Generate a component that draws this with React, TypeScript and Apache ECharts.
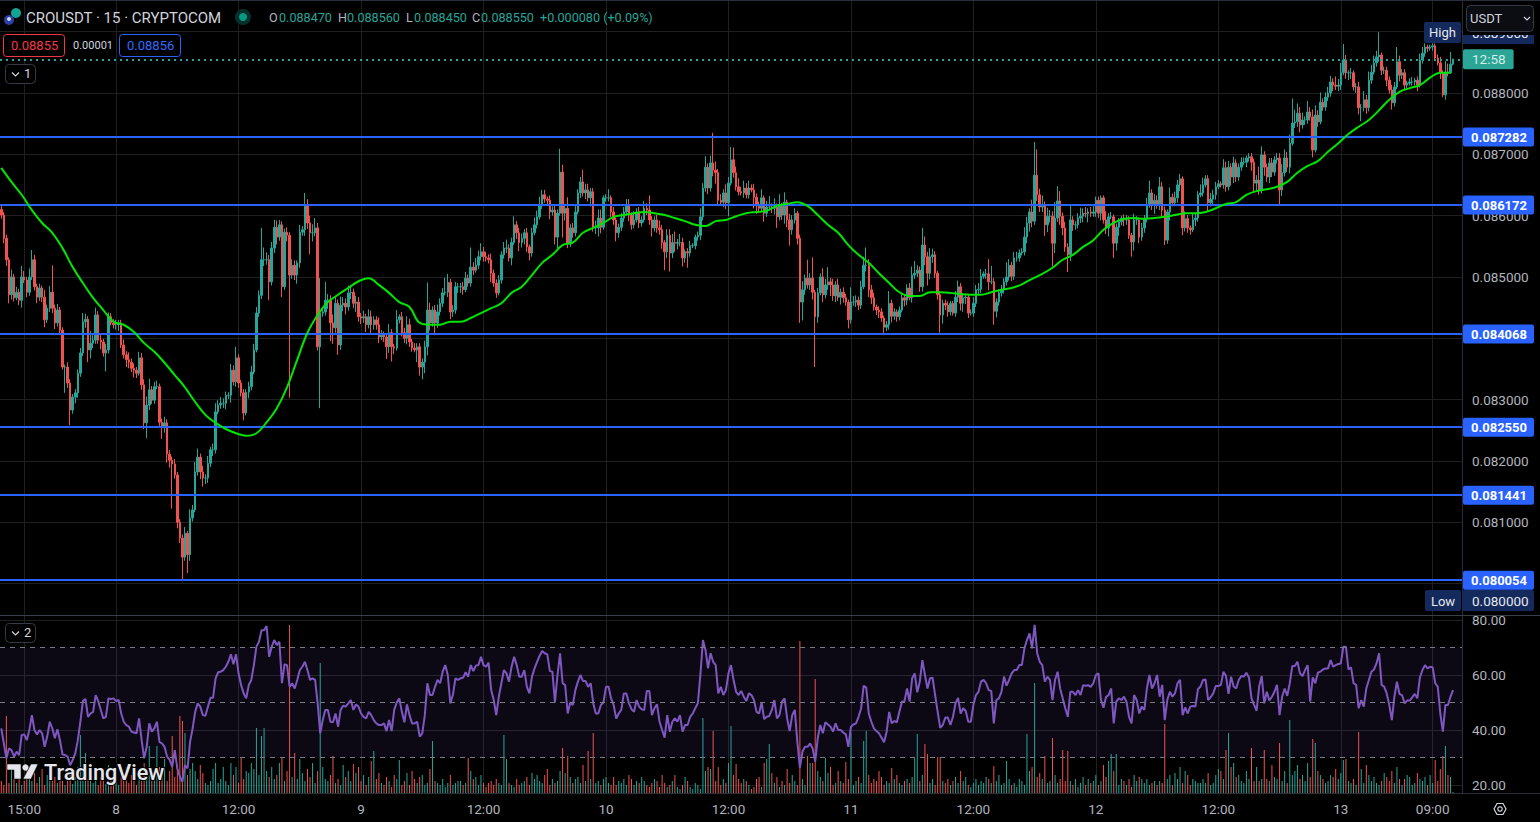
import React, { useEffect, useRef } from "react";
import * as echarts from "echarts";

// price values are stored in 0.00001 steps above 0.08
const priceBase = 0.08;
const priceStep = 0.00001;
const firstOpen = 610;
const closes = [
601,563,528,471,500,466,475,462,500,495,
475,500,528,484,467,482,467,430,449,475,
449,425,446,413,353,353,327,283,304,311,
343,376,427,431,381,392,397,438,397,394,
376,381,435,425,422,422,425,389,373,365,
361,351,348,343,368,324,262,291,316,299,
321,321,263,254,262,211,201,195,177,100,
74,43,82,47,107,120,182,206,182,172,
172,196,218,218,280,291,294,294,307,307,
348,329,368,327,311,278,312,321,345,381,
441,470,528,528,528,492,547,581,565,585,
484,573,568,503,519,503,523,573,577,617,
588,572,572,580,386,441,443,462,462,425,
417,457,389,454,457,451,474,475,457,459,
435,433,435,422,435,422,430,422,402,405,
402,386,409,386,384,430,435,409,400,422,
394,384,381,386,353,361,386,446,425,446,
425,443,457,474,475,491,443,446,484,484,
484,479,498,490,516,511,519,533,541,533,
531,528,506,490,474,495,536,547,547,531,
556,585,572,556,563,572,549,539,572,585,
598,617,634,627,625,606,609,565,604,671,
604,612,555,580,572,606,637,655,637,642,
629,639,580,580,596,581,629,629,629,606,
593,572,581,596,606,617,601,585,593,606,
588,593,612,609,593,580,593,580,577,556,
541,568,539,556,555,556,556,531,541,539,
551,551,565,568,598,645,679,645,686,674,
670,625,622,637,621,653,691,670,647,639,
637,645,634,645,642,630,617,612,629,604,
614,614,612,614,598,617,601,622,593,577,
593,604,563,459,479,498,487,498,475,435,
474,500,471,487,492,487,469,487,467,475,
466,459,430,459,459,462,454,484,519,519,
479,466,451,446,443,433,418,422,457,436,
443,435,446,466,462,482,466,503,506,511,
484,552,533,506,533,536,506,471,438,457,
454,443,457,441,467,484,457,466,467,441,
441,457,479,480,501,505,505,492,492,444,
459,474,479,492,500,519,501,531,531,539,
541,565,588,606,591,666,634,614,617,585,
599,599,555,596,624,599,580,549,536,593,
585,585,596,599,604,603,606,604,606,625,
604,629,593,580,598,598,555,581,590,596,
593,593,568,557,593,593,565,580,595,617,
637,617,625,617,647,609,560,606,630,621,
629,650,660,580,595,580,577,593,596,634,
637,650,660,621,627,634,647,652,650,678,
647,679,663,686,663,679,687,687,694,696,
687,653,658,642,699,679,663,686,671,691,
694,642,670,694,679,718,751,753,767,748,
756,756,769,761,707,764,753,785,777,793,
800,818,813,811,813,833,854,833,833,833,
810,810,776,776,789,776,821,834,849,859,
862,837,837,821,805,784,810,851,829,833,
813,816,818,818,821,813,854,865,875,873,
875,877,857,849,833,797,834,833,847,855,
];
const upperWicks = [
8,5,6,4,12,5,9,6,18,10,
5,14,16,8,5,7,4,12,6,10,
44,6,10,5,5,4,8,6,5,6,
6,8,14,9,5,20,8,12,6,8,
5,10,7,6,6,8,5,5,9,6,
12,6,8,5,10,8,9,14,18,6,
8,10,5,6,10,6,7,6,8,5,
5,6,10,4,14,8,16,14,6,10,
6,12,5,10,14,8,10,8,6,5,
10,8,18,6,5,6,5,8,10,10,
10,8,52,20,12,8,10,12,11,8,
6,6,8,5,10,8,4,12,6,20,
10,12,14,16,8,57,8,30,10,8,
14,10,6,14,10,8,12,10,6,10,
8,6,10,5,12,10,6,6,12,8,
6,6,14,6,5,16,4,8,8,14,
10,5,8,6,6,6,10,45,12,6,
8,12,8,8,24,14,6,8,8,6,
6,8,10,6,32,8,12,10,14,8,
8,6,10,6,6,8,6,10,14,6,
8,14,6,8,8,6,8,4,8,12,
10,14,8,8,4,8,6,10,6,38,
12,6,18,6,8,12,6,8,20,10,
10,6,6,12,14,14,4,6,14,4,
8,4,6,8,8,10,10,4,14,6,
8,6,12,8,24,6,6,8,12,8,
4,10,10,14,18,6,14,8,4,6,
8,4,4,6,14,8,18,6,12,49,
14,6,10,6,14,10,21,20,10,14,
8,12,8,12,6,10,6,6,14,4,
10,18,6,14,6,18,4,16,4,10,
8,8,4,6,14,6,30,8,34,4,
8,6,14,10,24,6,10,6,10,6,
8,6,4,24,10,8,6,10,14,29,
10,8,8,4,6,6,4,6,20,6,
6,4,6,8,6,6,8,14,20,8,
6,28,14,8,14,10,6,4,6,6,
6,6,4,4,10,10,6,8,6,4,
6,10,8,10,12,4,8,24,26,6,
6,6,8,6,24,10,6,10,10,6,
6,16,10,6,20,54,42,10,16,6,
14,10,8,26,24,16,6,10,6,24,
6,6,8,14,8,10,6,8,10,6,
6,4,4,14,6,8,4,6,6,4,
6,8,6,4,10,6,4,8,6,12,
20,6,10,8,16,8,6,4,16,6,
10,8,8,4,12,6,4,10,8,6,
14,12,6,6,10,8,8,6,4,14,
10,10,6,10,6,6,8,8,4,6,
6,6,8,22,14,6,6,8,8,6,
8,8,14,14,10,14,40,20,16,10,
12,6,18,8,12,16,8,16,6,8,
10,10,6,14,10,16,26,8,4,8,
4,6,8,6,14,8,14,12,12,10,
37,4,6,6,6,8,8,24,10,6,
6,4,6,8,4,6,10,10,6,4,
4,4,4,6,10,4,18,14,20,1,
];
const lowerWicks = [
6,8,10,14,8,6,4,8,12,5,
8,6,5,6,10,6,8,12,5,6,
8,10,6,8,4,42,8,25,6,10,
8,6,5,10,20,14,8,6,6,12,
6,30,6,4,6,8,10,5,6,12,
10,6,12,8,4,8,10,25,8,6,
6,4,8,18,8,14,12,73,6,10,
8,37,6,30,10,6,4,6,12,14,
10,8,6,10,6,4,6,8,10,6,
12,6,8,8,6,12,4,10,6,4,
4,6,6,10,8,30,6,8,12,6,
17,5,10,200,6,8,14,8,6,10,
10,35,14,6,6,100,6,6,14,30,
26,8,16,8,10,12,6,10,8,14,
8,10,8,12,6,14,8,8,10,5,
8,20,10,24,10,4,6,6,8,10,
8,6,4,20,14,20,18,14,12,6,
20,8,6,6,4,8,12,8,6,10,
10,8,4,6,6,8,4,6,6,8,
6,6,14,6,8,4,6,6,8,6,
12,4,10,14,8,10,8,12,6,4,
6,4,6,6,6,12,6,12,18,4,
40,12,8,6,8,6,4,8,6,10,
6,14,6,10,14,10,4,6,6,8,
8,14,8,6,6,6,10,8,6,4,
8,6,4,8,8,14,6,8,8,10,
30,10,30,8,14,10,6,14,8,24,
6,4,6,6,8,6,6,10,6,10,
18,8,6,8,10,22,4,8,6,6,
4,8,6,6,4,18,14,8,6,14,
6,6,8,10,18,6,8,14,12,26,
8,6,10,34,30,8,6,8,12,82,
10,4,12,6,8,18,8,10,6,12,
8,6,14,6,6,8,8,6,4,10,
12,10,6,8,10,6,13,6,8,10,
6,8,6,4,10,8,4,8,6,6,
8,8,14,20,10,10,8,8,29,14,
8,8,6,4,6,8,12,14,10,8,
4,6,6,8,6,4,8,14,4,22,
10,6,6,6,6,6,8,6,6,6,
4,6,10,14,10,6,10,8,8,18,
12,10,38,16,6,14,12,8,28,10,
10,8,6,8,10,6,14,6,6,8,
8,12,6,10,14,4,24,12,14,6,
10,8,6,24,14,8,10,6,8,6,
4,8,14,6,8,10,8,6,14,6,
6,8,10,12,6,8,8,4,10,6,
4,6,4,14,6,10,8,4,4,6,
8,6,14,10,8,6,6,4,8,6,
14,16,12,8,6,14,8,10,8,6,
6,24,10,6,8,10,4,8,8,12,
6,8,6,6,12,4,8,4,6,6,
6,6,10,6,8,8,4,10,12,10,
6,10,11,22,6,10,6,6,4,6,
8,8,6,10,6,11,6,4,10,6,
8,6,4,6,6,10,4,6,6,6,
4,6,4,4,10,4,8,6,2,2,
];
const volumes = [
12,8,77,10,28,14,10,22,8,12,
26,18,12,20,10,16,24,8,18,12,
24,16,10,22,12,8,14,20,9,16,
26,58,22,40,14,18,10,24,8,16,
12,9,28,14,10,20,8,16,12,26,
10,18,14,8,22,12,30,16,47,20,
14,47,26,18,34,12,22,57,16,28,
77,72,60,18,24,30,22,14,28,20,
10,8,12,24,30,10,14,26,12,8,
30,18,26,10,36,14,22,20,30,24,
65,18,57,65,22,16,26,14,18,30,
36,12,22,168,16,40,14,34,20,12,
24,16,30,10,22,130,26,14,12,18,
37,10,14,8,28,16,22,12,29,20,
26,12,18,8,16,32,42,14,20,10,
8,16,12,6,18,14,33,8,12,20,
8,22,14,10,16,18,8,10,24,52,
12,10,8,14,6,10,18,8,10,12,
12,8,10,35,22,14,16,8,18,10,
6,10,12,8,14,10,8,58,34,10,
8,6,14,8,10,12,16,8,20,14,
18,12,10,18,24,8,14,10,12,22,
45,20,37,16,10,14,16,10,28,12,
42,14,60,10,12,8,14,16,10,8,
16,8,12,10,14,8,18,14,8,12,
10,16,12,8,6,10,14,12,6,18,
10,6,8,12,18,6,4,8,16,12,
6,4,10,8,4,75,22,26,24,62,
12,26,8,14,10,30,67,18,29,14,
10,14,12,8,4,6,14,16,6,30,
34,49,20,10,16,6,12,8,24,10,
18,12,8,152,14,8,37,30,30,114,
22,16,12,35,20,26,8,10,22,12,
10,31,14,60,8,12,16,10,52,62,
18,10,14,12,22,16,8,12,10,25,
14,18,10,8,12,14,10,16,35,59,
12,18,49,39,10,14,8,36,36,12,
10,14,8,12,16,10,22,12,16,8,
6,10,14,8,12,10,16,14,10,27,
12,18,8,10,32,14,8,10,6,14,
12,8,59,22,26,110,16,20,14,37,
10,12,55,18,10,14,43,12,42,12,
8,14,6,10,16,8,14,10,12,18,
8,12,28,16,32,39,22,39,8,14,
12,8,14,6,18,12,16,14,10,14,
8,10,12,8,12,10,69,14,18,8,
20,14,26,10,22,18,8,14,12,10,
10,14,10,20,8,10,18,24,22,14,
43,60,26,30,16,18,12,10,22,14,
45,12,26,12,14,43,14,12,28,16,
14,50,12,22,10,73,18,22,28,14,
18,12,30,16,54,50,22,18,14,10,
12,18,16,24,14,20,33,34,12,10,
14,8,61,24,10,28,18,12,16,10,
8,12,20,16,12,22,10,26,14,8,
14,18,16,8,10,20,14,12,16,8,
18,10,33,12,24,37,47,18,16,1,
];
// moving average, one reading for every fourth candle
const maEvery = 4;
const maValues = [
678,655,634,609,588,572,547,516,490,466,446,427,422,410,392,378,360,340,320,296,
275,262,252,245,241,245,263,286,320,365,409,438,459,471,482,493,498,
487,474,459,451,425,422,422,427,427,433,441,449,457,474,484,503,523,536,552,556,572,580,588,598,601,604,606,604,601,596,591,585,583,591,593,
599,604,606,608,616,619,622,616,601,585,572,552,536,523,506,490,475,469,469,475,475,474,472,471,471,475,479,482,488,497,505,515,528,536,549,
560,577,588,595,596,595,596,598,601,604,604,606,612,619,622,634,640,643,647,655,670,681,689,704,718,733,745,756,772,789,802,808,813,825,833,833,
];
const rsiValues = [
40.6,35.1,29.7,33.3,32.7,30.3,32.1,30.9,38.2,38.4,36.3,40,45.4,40,38.4,40,38.8,33.9,37.6,43,40.6,37,40.3,36.3,31.1,30.9,30.3,27.2,29.1,31.5,36.3,43,50.5,51.3,44.8,46,46.6,52.7,50.5,47.3,44.2,44.8,51.5,51.3,51.5,50.5,50.9,46,43,41.8,41.2,39.4,39.1,38.8,44.2,36.3,29.7,33.9,42.4,39.4,40.6,43,35.7,35.1,33.9,30.3,29.1,26.6,32.7,26,23,21.2,27.2,26,35.7,40.6,46.6,49.7,48.5,45.4,45.2,48.5,51.7,51.7,58.8,61,61.2,61.8,63,64.8,67.5,63.9,67.5,60.6,56.3,53.3,51.5,56.3,58.2,63.6,70.3,72.1,76.3,76.3,77.8,66.6,70.3,72.7,70.9,72.1,57,63.9,63.6,55.7,57,55.1,58.2,61.8,63,64.8,61.8,58.2,58.8,58.2,49.7,38.8,43.6,47.3,47.3,43,42.8,46,41.2,47.3,48.8,48.5,49.7,50.9,47.3,49.3,48.5,46,44.8,44.2,46.6,
45.4,43.6,42.4,41.8,41.8,42.4,39.6,43.6,39.6,47.3,50,51.5,46.6,42.8,49.3,45.4,42.4,42.4,43,37.6,38.8,45.4,57,52.7,52.7,55.7,58.2,57,61.2,63.6,60,49.7,52.7,58.8,58.2,58.8,59,61,59.4,63.6,61.4,63.4,63.6,66.6,63.6,63,64.5,54.5,50.9,45.4,52.1,57,61.8,60.6,57.6,63,66.6,63.6,59.4,59.4,61.8,55.7,53.3,59.4,62.4,64.8,67,68.7,67.9,67.5,61.4,61.2,50,60,67.9,57,56.3,46,50,49.1,54.5,57.6,60,57.8,57.8,55.7,57,49.7,46,46,49.1,50,55.7,55.7,51.5,49.1,44.2,46,47.3,53.3,53.3,49.7,47.6,46.6,50.9,48.5,47.5,47.3,54.2,54.2,45.4,47.9,49.3,43,40,37.2,45.4,39.4,43,44.2,43,45.4,39.4,41.8,41.8,44.8,46,47.9,49.7,60,72.7,69.1,62.4,67.9,64.8,63.6,53.3,55.7,52.7,54.5,60.6,63.6,58.2,53.9,52.7,
54.2,52.1,50.5,53.3,52.7,50.9,46.6,46,50,44,44.8,45.1,47.3,50.9,44.2,45.4,50.3,51.5,44.2,39.6,45.4,47.3,35.7,26.3,32.1,33.9,33.9,35.1,33.3,28.5,37,41.8,38.8,42.8,42,41.2,39.4,42.4,40,40,39.1,38.4,33.9,41.2,42,42.4,44.8,47.9,56.1,55.4,46,43,40.6,39.6,38.8,37.2,35.5,39.4,46.6,42.4,43.3,42.8,46.6,50.3,50.5,55.1,50.3,58.8,60.6,53.7,57.6,65.4,60,55.1,58.8,59,52.7,46.6,40.8,41.8,44.5,44.5,41.8,44.8,49.7,51.7,46,47.9,46.9,43,43,49.1,52.7,53.9,57.6,58.2,57,54.5,54.2,42.4,50.9,51.5,53.9,59.4,56.1,58.2,60.6,61.8,61.8,63.6,63.6,69.7,72.7,75.1,69.7,78.2,67.9,64.8,63.6,57.6,59.4,58.2,50.9,58.2,61.2,55.1,51.5,47.9,44.8,53.9,53.9,52.7,54.5,52.7,56.3,56.1,56.3,55.7,57,60,60.6,50.9,48.1,52.1,52.7,
55.1,42.4,50.3,51.5,50.9,52.1,50.3,44.8,42.4,52.7,50.9,46,48.5,47.3,55.1,60,55.1,57,60,52.1,56.4,43.6,50.9,53.9,52.1,53.3,57,58.2,45.4,48.2,46,48.5,48.7,48.5,54.8,55.8,58.2,58.4,50.9,51.9,53.3,56,56,56.4,61.2,59.6,53.1,59.4,55.8,55.1,58.2,59.6,59.4,60.8,59.1,51.5,49.1,47,55.8,59.6,49.7,53.9,50.7,52.1,53.9,56.4,45.4,52.1,55.1,52.4,57,63.3,63.3,64.8,60.6,59.6,61.8,63.6,50.3,59.1,57,60.8,61.2,62,62.4,62.4,65.4,63,63.6,64,64.2,70.3,70.3,62,62.8,57,56.4,47.9,50.9,48.5,55.1,58.2,61.2,62,64.2,67.9,56.4,55.8,53.3,49.1,43.6,52.1,57.6,53.1,52.7,49.7,50.7,50.7,51.9,53.1,51.5,59.1,61.8,63.6,62.4,63,62.8,57,55.8,46,39.4,49.1,49.1,52.1,54.5,
];
const levels = [0.087282, 0.086172, 0.084068, 0.08255, 0.081441, 0.080054];
const lastPrice = 0.08855;
const priceGridTicks = [0.08, 0.081, 0.082, 0.083, 0.084, 0.085, 0.086, 0.087, 0.088, 0.089];
const priceLabelTicks = [0.081, 0.082, 0.083, 0.085, 0.086, 0.087, 0.088];
const rsiTicks = [20, 40, 60, 80];
const rsiBands = [70, 50, 30];
const timeLabels = ["15:00", "8", "12:00", "9", "12:00", "10", "12:00", "11", "12:00", "12", "12:00", "13", "09:00"];
const timeIndex = [9, 45, 93, 141, 189, 237, 285, 333, 381, 429, 477, 525, 561];
const slotCount = 573;

const UP = "#26a69a";
const DOWN = "#ef5350";
const GRID = "#202020";
const AXIS = "#b2b5be";
const BORDER = "#2a2e39";
const FONT = "Roboto, 'Noto Sans', sans-serif";

const opens = closes.map((_, i) => (i === 0 ? firstOpen : closes[i - 1]));
const toPrice = (u: number) => priceBase + u * priceStep;
const candles = closes.map((c, i) => {
  const o = opens[i];
  return [toPrice(o), toPrice(c), toPrice(Math.min(o, c) - lowerWicks[i]), toPrice(Math.max(o, c) + upperWicks[i])];
});
const categories = Array.from({ length: slotCount }, () => "");
timeIndex.forEach((idx, k) => { categories[idx] = timeLabels[k]; });
const isTick = (i: number) => timeIndex.includes(i);

const txt = (text: string, x: number, y: number, fill: string, fontSize = 13, extra: any = {}) => ({
  type: "text", x, y, z: extra.z || 20,
  style: { text, fill, font: `${extra.weight || 400} ${fontSize}px ${FONT}`, textVerticalAlign: "middle", textAlign: extra.align || "left" },
});
const box = (x: number, y: number, width: number, height: number, fill: string, stroke?: string, r = 0, z = 19) => ({
  type: "rect", z, shape: { x, y, width, height, r },
  style: { fill, stroke: stroke || "none", lineWidth: 1 },
});
const foldBox = (y: number, n: string) => [
  box(5.5, y, 30, 19, "#000", "#363a45", 4),
  { type: "polyline", z: 20, shape: { points: [[12, y + 8], [15.5, y + 11.5], [19, y + 8]] }, style: { stroke: "#d1d4dc", lineWidth: 1.2, fill: "none" } },
  txt(n, 24, y + 9, "#d1d4dc", 13),
];

const graphics: any[] = [
  { type: "line", z: 18, shape: { x1: 0, y1: 0.5, x2: 1540, y2: 0.5 }, style: { stroke: BORDER, lineWidth: 1 } },
  { type: "line", z: 18, shape: { x1: 0, y1: 615.5, x2: 1540, y2: 615.5 }, style: { stroke: "#3a3e49", lineWidth: 1 } },
  { type: "line", z: 18, shape: { x1: 0, y1: 793.5, x2: 1540, y2: 793.5 }, style: { stroke: BORDER, lineWidth: 1 } },
  // symbol logo
  { type: "circle", z: 20, shape: { cx: 16, cy: 13, r: 5 }, style: { fill: "#12a594" } },
  { type: "circle", z: 21, shape: { cx: 9, cy: 20, r: 5 }, style: { fill: "#2b3fa8" } },
  { type: "circle", z: 22, shape: { cx: 9, cy: 19, r: 2 }, style: { fill: "#d1d4dc" } },
  txt("CROUSDT · 15 · CRYPTOCOM", 26, 17.5, "#d1d4dc", 15),
  { type: "circle", z: 20, shape: { cx: 243, cy: 17, r: 8 }, style: { fill: "#06302b" } },
  { type: "circle", z: 21, shape: { cx: 243, cy: 17, r: 4 }, style: { fill: "#089981" } },
  txt("O", 269, 17.5, AXIS, 12.6), txt("0.088470", 279, 17.5, UP, 12.6),
  txt("H", 338, 17.5, AXIS, 12.6), txt("0.088560", 347, 17.5, UP, 12.6),
  txt("L", 406, 17.5, AXIS, 12.6), txt("0.088450", 414, 17.5, UP, 12.6),
  txt("C", 472, 17.5, AXIS, 12.6), txt("0.088550", 481, 17.5, UP, 12.6),
  txt("+0.000080 (+0.09%)", 540, 17.5, UP, 12.6),
  box(3.5, 34.5, 61, 22, "#000", "#f23645", 3),
  txt("0.08855", 11, 45.5, "#f23645", 13),
  txt("0.00001", 73, 45.5, "#d1d4dc", 11),
  box(119.5, 34.5, 61, 22, "#000", "#2962ff", 3),
  txt("0.08856", 127, 45.5, "#2f6bff", 13),
  ...foldBox(64.5, "1"),
  ...foldBox(623.5, "2"),
  // high / low tags
  box(1463, 35, 71, 9, "#14295c", undefined, 0, 21),
  txt("0.089000", 1472, 33, "#e6e8ee", 13.5, { z: 22 }),
  box(1463, 20, 71, 15, "#000", undefined, 0, 23),
  // currency selector
  box(1466.5, 5.5, 67, 26, "#0b0d12", "#363a45", 4, 24),
  txt("USDT", 1470, 18.5, "#d1d4dc", 13, { z: 25 }),
  { type: "polyline", z: 25, shape: { points: [[1524, 17], [1527, 20], [1530, 17]] }, style: { stroke: "#d1d4dc", lineWidth: 1.2, fill: "none" } },
  box(1424, 22, 37, 21, "#14295c", undefined, 2, 24),
  txt("High", 1442.5, 32, "#e6e8ee", 13, { align: "center", z: 25 }),
  box(1425, 590, 36, 21, "#14295c", undefined, 2, 24),
  txt("Low", 1443, 601, "#e6e8ee", 13, { align: "center", z: 25 }),
  box(1462, 590, 72, 21, "#14295c", undefined, 2, 24),
  txt("0.080000", 1472, 601, "#e6e8ee", 13.5, { z: 25 }),
  // watermark
  { type: "polygon", z: 30, shape: { points: [[7, 764], [21, 764], [21, 779], [14, 779], [14, 770], [7, 770]] }, style: { fill: "#e4e6ec", stroke: "#000", lineWidth: 0.5 } },
  { type: "circle", z: 30, shape: { cx: 25.5, cy: 767.5, r: 3.2 }, style: { fill: "#e4e6ec" } },
  { type: "polygon", z: 30, shape: { points: [[31, 764], [38, 764], [31, 779], [23, 779]] }, style: { fill: "#e4e6ec", stroke: "#000", lineWidth: 0.5 } },
  {
    type: "text", x: 44, y: 772, z: 30,
    style: { text: "TradingView", fill: "#e4e6ec", font: `500 21.6px ${FONT}`, textVerticalAlign: "middle", stroke: "#000", lineWidth: 2 },
  },
  // settings icon
  { type: "polygon", z: 20, shape: { points: [[1494, 809], [1497, 803.5], [1503, 803.5], [1506, 809], [1503, 814.5], [1497, 814.5]] }, style: { fill: "none", stroke: "#d1d4dc", lineWidth: 1.2 } },
  { type: "circle", z: 20, shape: { cx: 1500, cy: 809, r: 2.2 }, style: { fill: "none", stroke: "#d1d4dc", lineWidth: 1.2 } },
];

const priceLines = [
  ...levels.map((v) => ({
    yAxis: v,
    lineStyle: { color: "#2962ff", width: 2, type: "solid" },
    label: {
      show: true, position: "end", distance: 1, formatter: (p: any) => Number(p.value).toFixed(6),
      backgroundColor: "#2962ff", color: "#fff", fontFamily: FONT, fontWeight: 700, fontSize: 13, padding: [3, 7, 3, 8], borderRadius: 2,
    },
  })),
  {
    yAxis: lastPrice,
    lineStyle: { color: UP, width: 2, type: [2, 4] },
    label: {
      show: true, position: "end", distance: 1, formatter: () => "12:58",
      backgroundColor: "#2ba596", color: "#d6ece8", fontFamily: FONT, fontSize: 13.5, padding: [3, 8, 3, 9], borderRadius: 2,
    },
  },
];

const option: any = {
  animation: false,
  backgroundColor: "#000",
  graphic: graphics,
  grid: [
    { left: 0, right: 78, top: 0, height: 615 },
    { left: 0, right: 78, top: 616, height: 177 },
  ],
  xAxis: [0, 1].map((g) => ({
    type: "category",
    gridIndex: g,
    data: categories,
    boundaryGap: true,
    axisLine: { show: false },
    axisTick: { show: false, alignWithLabel: true, interval: (i: number) => isTick(i) },
    splitLine: { show: true, alignWithLabel: true, interval: (i: number) => isTick(i), lineStyle: { color: GRID, width: 1 } },
    axisLabel: g === 0 ? { show: false } : {
      show: true, interval: (i: number) => isTick(i), color: AXIS, fontFamily: FONT, fontSize: 13.5, margin: 9, hideOverlap: false,
    },
  })),
  yAxis: [
    {
      type: "value", gridIndex: 0, position: "right", scale: true,
      min: 0.079486, max: 0.089517,
      axisLine: { show: true, lineStyle: { color: BORDER } },
      axisTick: { show: false, customValues: priceGridTicks },
      splitLine: { show: true, lineStyle: { color: GRID } },
      axisLabel: { customValues: priceLabelTicks, formatter: (v: number) => v.toFixed(6), color: AXIS, fontFamily: FONT, fontSize: 13.5, margin: 10 },
    },
    {
      type: "value", gridIndex: 1, position: "right",
      min: 17.09, max: 81.45,
      axisLine: { show: true, lineStyle: { color: BORDER } },
      axisTick: { show: false, customValues: rsiTicks },
      splitLine: { show: true, lineStyle: { color: GRID } },
      axisLabel: { customValues: rsiTicks, formatter: (v: number) => v.toFixed(2), color: AXIS, fontFamily: FONT, fontSize: 13.5, margin: 10 },
    },
    { type: "value", gridIndex: 1, min: 0, max: 177, show: false, splitLine: { show: false } },
  ],
  series: [
    {
      type: "candlestick", xAxisIndex: 0, yAxisIndex: 0, data: candles, barWidth: 2, large: false, z: 3,
      itemStyle: { color: UP, color0: DOWN, borderColor: UP, borderColor0: DOWN, borderWidth: 1 },
      markLine: { silent: true, symbol: "none", animation: false, precision: 6, z: 4, data: priceLines },
    },
    {
      type: "line", xAxisIndex: 0, yAxisIndex: 0, z: 5, showSymbol: false, smooth: 0.4,
      lineStyle: { color: "#00e600", width: 2 },
      data: maValues.map((u, k) => [k * maEvery, toPrice(u)]),
    },
    {
      type: "bar", xAxisIndex: 1, yAxisIndex: 2, barWidth: 1, z: 2,
      data: volumes.map((v, i) => ({ value: v, itemStyle: { color: closes[i] >= opens[i] ? UP : DOWN } })),
    },
    {
      type: "line", xAxisIndex: 1, yAxisIndex: 1, z: 4, showSymbol: false,
      lineStyle: { color: "#7e57c2", width: 2 },
      data: rsiValues,
      markArea: { silent: true, itemStyle: { color: "rgba(126,87,194,0.1)" }, data: [[{ yAxis: rsiBands[0] }, { yAxis: rsiBands[2] }]] },
      markLine: {
        silent: true, symbol: "none", animation: false, label: { show: false },
        lineStyle: { color: "#787b86", type: [5, 5], width: 1 },
        data: rsiBands.map((v) => ({ yAxis: v })),
      },
    },
  ],
};

export default function App() {
  const ref = useRef<HTMLDivElement>(null);
  useEffect(() => {
    document.body.style.margin = "0";
    document.body.style.background = "#000";
    const chart = echarts.init(ref.current!, undefined, { renderer: "svg" });
    chart.setOption(option);
    return () => chart.dispose();
  }, []);
  return <div ref={ref} style={{ width: 1540, height: 822 }} />;
}
